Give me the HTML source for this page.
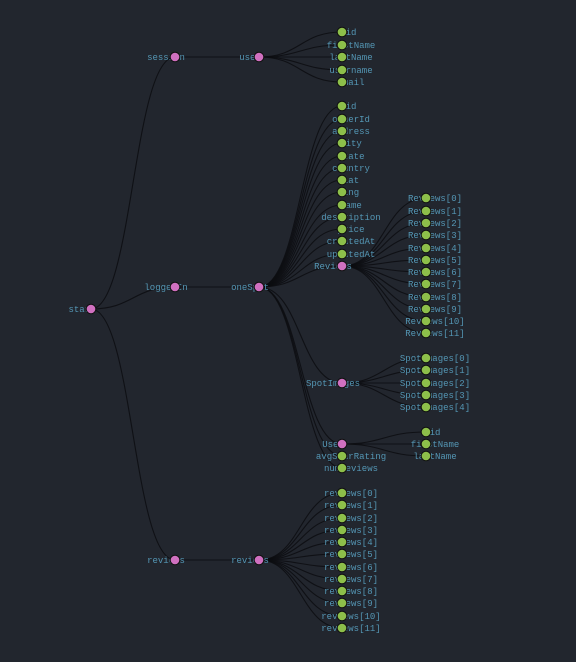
<!DOCTYPE html>
<html><head><meta charset="utf-8">
<style>
html,body{margin:0;padding:0;background:#22262e;}
svg{display:block;}
text{font-family:"Liberation Mono",monospace;font-size:9px;fill:#5496b4;}
</style></head>
<body>
<svg id="chart" width="576" height="662" viewBox="0 0 576 662"></svg>
<script>
// level x columns (depth -> px) and tree data: [name, depth, y, parentIndex]
const depthX = [91, 175, 259, 342, 426];
const names = [
 "start","session","user","id","firstName","lastName","username","email",
 "loggedIn","oneSpot","id","ownerId","address","city","state","country","lat","lng","name","description","price","createdAt","updatedAt",
 "Reviews","Reviews[0]","Reviews[1]","Reviews[2]","Reviews[3]","Reviews[4]","Reviews[5]","Reviews[6]","Reviews[7]","Reviews[8]","Reviews[9]","Reviews[10]","Reviews[11]",
 "SpotImages","SpotImages[0]","SpotImages[1]","SpotImages[2]","SpotImages[3]","SpotImages[4]",
 "User","id","firstName","lastName","avgStarRating","numReviews",
 "reviews","reviews","reviews[0]","reviews[1]","reviews[2]","reviews[3]","reviews[4]","reviews[5]","reviews[6]","reviews[7]","reviews[8]","reviews[9]","reviews[10]","reviews[11]"
];
const depths = [0,1,2,3,3,3,3,3, 1,2,3,3,3,3,3,3,3,3,3,3,3,3,3, 3,4,4,4,4,4,4,4,4,4,4,4,4, 3,4,4,4,4,4, 3,4,4,4,3,3, 1,2,3,3,3,3,3,3,3,3,3,3,3,3];
const ys = [309,57,57,32,45,57,70,82, 287,287,106,119,131,143,156,168,180,192,205,217,229,241,254,
 266,198,211,223,235,248,260,272,284,297,309,321,333,
 383,358,370,383,395,407,
 444,432,444,456,456,468,
 560,560,493,505,518,530,542,554,567,579,591,603,616,628];
const parents = [-1,0,1,2,2,2,2,2, 0,8,9,9,9,9,9,9,9,9,9,9,9,9,9,
 9,23,23,23,23,23,23,23,23,23,23,23,23,
 9,36,36,36,36,36,
 9,42,42,42,9,9,
 0,48,49,49,49,49,49,49,49,49,49,49,49,49];

const NS="http://www.w3.org/2000/svg";
const svg=document.getElementById('chart');
const hasKids=names.map((_,i)=>parents.includes(i));
const gL=document.createElementNS(NS,'g');


svg.appendChild(gL);
for(let i=0;i<names.length;i++){
  const p=parents[i]; if(p<0) continue;
  const x0=depthX[depths[p]],y0=ys[p],x1=depthX[depths[i]],y1=ys[i],mx=(x0+x1)/2;
  const path=document.createElementNS(NS,'path');
  path.setAttribute('d',`M${x0},${y0}C${mx},${y0} ${mx},${y1} ${x1},${y1}`);
  path.setAttribute('fill','none');path.setAttribute('stroke','#0c0d10');
  path.setAttribute('stroke-opacity','0.85');path.setAttribute('stroke-width','1.1');
  
  
  gL.appendChild(path);
}
for(let i=0;i<names.length;i++){
  const g=document.createElementNS(NS,'g');
  
  
  const x=depthX[depths[i]],y=ys[i];
  const t=document.createElementNS(NS,'text');
  t.setAttribute('x',x+(hasKids[i]?-9:9));t.setAttribute('y',y+3);t.setAttribute('text-anchor','middle');
  t.textContent=names[i];
  
  
  const c=document.createElementNS(NS,'circle');
  c.setAttribute('cx',x);c.setAttribute('cy',y);c.setAttribute('r',4.8);
  c.setAttribute('fill',hasKids[i]?'#d070c0':'#8dbf4a');
  c.setAttribute('stroke','#111');c.setAttribute('stroke-width','1');
  
  
  g.appendChild(t);g.appendChild(c);
  svg.appendChild(g);
}
</script>
</body></html>
